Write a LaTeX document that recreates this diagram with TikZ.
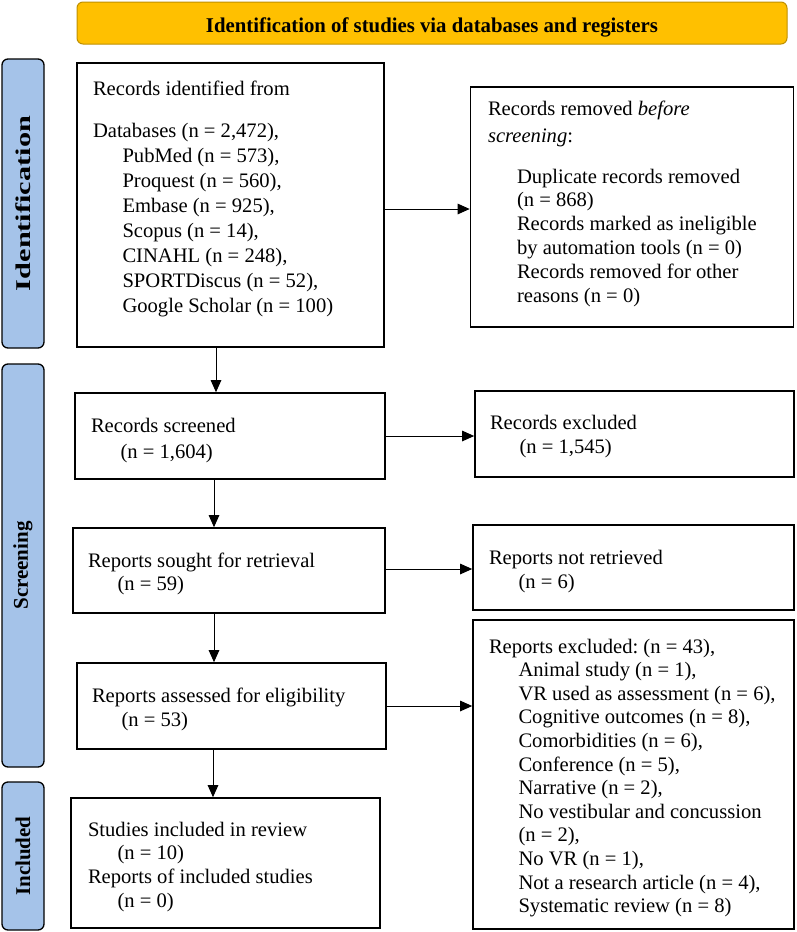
\documentclass[tikz,border=0pt]{standalone}
\usepackage{fontspec}
\usepackage{graphicx}
\setmainfont{Liberation Serif}
\usetikzlibrary{arrows.meta}
\definecolor{hdrfill}{HTML}{FFC000}
\definecolor{hdrline}{HTML}{BF9000}
\definecolor{sidefill}{HTML}{A5C3E9}
\newcommand\ind{\hspace*{29.5pt}}
\newcommand\fsz[1]{\fontsize{20.6}{#1}\selectfont}
\newcommand\lns[1]{\begin{tabular}[t]{@{}l@{}}#1\end{tabular}}
\frenchspacing
\begin{document}
\frenchspacing
\begin{tikzpicture}[x=1pt,y=-1pt,
  box/.style={draw=black,line width=1.6pt,inner sep=0pt},
  sidelab/.style={draw=black,line width=1.3pt,fill=sidefill,rounded corners=6pt,rotate=90,inner sep=0pt,minimum height=42pt,font=\fontsize{21}{25}\selectfont\bfseries},
  txt/.style={anchor=base west,inner sep=0pt,outer sep=0pt},
  arr/.style={-{Triangle[length=12pt,width=10.5pt]},line width=1pt}]
\useasboundingbox (0,0) rectangle (796,932);

% header
\node[draw=hdrline,line width=1pt,fill=hdrfill,rounded corners=6pt,minimum width=710pt,minimum height=42pt,inner sep=0pt] (hd) at (432,23) {};
\node[anchor=base,inner sep=0pt,font=\fontsize{21}{25}\selectfont\bfseries] (hdt) at (432,32) {\resizebox{452pt}{\height}{Identification of studies via databases and registers}};

% side labels
\node[sidelab,minimum width=289pt] (L1) at (23,203.5) {\resizebox{175pt}{\height}{Identification}};
\node[sidelab,minimum width=403pt] (L2) at (23,565.5) {Screening};
\node[sidelab,minimum width=148pt] (L3) at (23,856) {Included};

% boxes
\node[box,minimum width=307pt,minimum height=284pt] (A) at (230.5,205) {};
\node[box,minimum width=323pt,minimum height=240pt] (B) at (632,207) {};
\node[box,minimum width=310pt,minimum height=86pt] (C) at (230,436) {};
\node[box,minimum width=319pt,minimum height=86pt] (D) at (634.5,434) {};
\node[box,minimum width=312pt,minimum height=85pt] (E) at (229,570.5) {};
\node[box,minimum width=321pt,minimum height=85pt] (F) at (633.5,567.5) {};
\node[box,minimum width=309pt,minimum height=86pt] (G) at (231.5,706) {};
\node[box,minimum width=321pt,minimum height=309pt] (H) at (633.5,774.5) {};
\node[box,minimum width=309pt,minimum height=130pt] (I) at (225.5,863) {};

% texts
\node[txt,font=\fsz{25}] (At1) at (93,95) {Records identified from};
\node[txt,font=\fsz{25}] (At2) at (93,137) {\lns{Databases (n = 2,472),\\
 \ind PubMed (n = 573),\\
 \ind Proquest (n = 560),\\
 \ind Embase (n = 925),\\
 \ind Scopus (n = 14),\\
 \ind CINAHL (n = 248),\\
 \ind SPORTDiscus (n = 52),\\
 \ind Google Scholar (n = 100)}};

\node[txt,font=\fsz{27}] (Bt1) at (488,115) {\lns{Records removed \textit{before}\\ \textit{screening}:}};
\node[txt,font=\fsz{23.8}] (Bt2) at (517,183) {\lns{Duplicate records removed\\
 (n = 868)\\
 Records marked as ineligible\\
 by automation tools (n = 0)\\
 Records removed for other\\
 reasons (n = 0)}};

\node[txt,font=\fsz{26}] (Ct) at (91,432) {\lns{Records screened\\ \ind(n = 1,604)}};
\node[txt,font=\fsz{24}] (Dt) at (490,429) {\lns{Records excluded\\ \ind(n = 1,545)}};
\node[txt,font=\fsz{23}] (Et) at (88,567) {\lns{Reports sought for retrieval\\ \ind(n = 59)}};
\node[txt,font=\fsz{24}] (Ft) at (489,564) {\lns{Reports not retrieved\\ \ind(n = 6)}};
\node[txt,font=\fsz{24}] (Gt) at (92,702) {\lns{Reports assessed for eligibility\\ \ind(n = 53)}};
\node[txt,font=\fsz{23.6}] (Ht) at (489,653) {\lns{Reports excluded: (n = 43),\\
 \ind Animal study (n = 1),\\
 \ind VR used as assessment (n = 6),\\
 \ind Cognitive outcomes (n = 8),\\
 \ind Comorbidities (n = 6),\\
 \ind Conference (n = 5),\\
 \ind Narrative (n = 2),\\
 \ind No vestibular and concussion\\
 \ind (n = 2),\\
 \ind No VR (n = 1),\\
 \ind Not a research article (n = 4),\\
 \ind Systematic review (n = 8)}};
\node[txt,font=\fsz{23.7}] (It) at (88,836) {\lns{Studies included in review\\
 \ind(n = 10)\\
 Reports of included studies\\
 \ind(n = 0)}};

% connector columns
\coordinate (x1) at (216,0);
\coordinate (x2) at (214,0);
\coordinate (x3) at (213,0);
\coordinate (ey) at (0,569);
\coordinate (ay) at (0,209);

\draw[arr] (A.east |- ay) -- (B.west |- ay);
\draw[arr] (A.south -| x1) -- (C.north -| x1);
\draw[arr] (C.east) -- (C.east -| D.west);
\draw[arr] (C.south -| x2) -- (E.north -| x2);
\draw[arr] (E.east |- ey) -- (F.west |- ey);
\draw[arr] (E.south -| x2) -- (G.north -| x2);
\draw[arr] (G.east) -- (G.east -| H.west);
\draw[arr] (G.south -| x3) -- (I.north -| x3);
\end{tikzpicture}
\end{document}
